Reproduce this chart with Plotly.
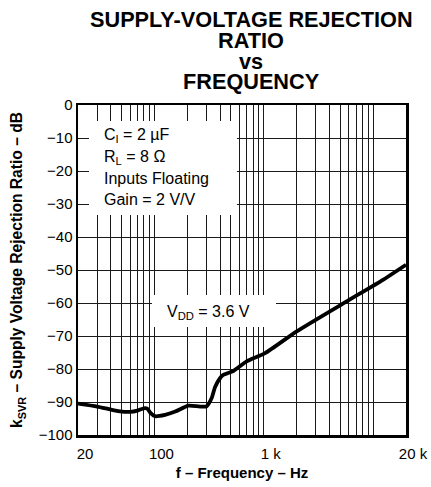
import plotly.graph_objects as go

# ---- data ----
freq_hz = [20, 30, 40, 50, 60, 70, 80, 86, 92, 101, 125, 155, 205, 261, 300,
           334, 358, 398, 426, 527, 698, 1028, 2004, 5745, 12420, 20000]
ksvr_db = [-90.5, -91.4, -92.3, -92.9, -93.0, -92.6, -91.9, -92.0, -93.3, -94.3,
           -93.9, -92.9, -91.1, -91.4, -91.3, -88.8, -85.5, -82.8, -81.8, -80.6,
           -77.7, -75.2, -68.6, -59.5, -52.9, -48.4]

x_grid_vals = [20, 30, 40, 50, 60, 70, 80, 90, 100, 200, 300, 400, 500, 600, 700,
               800, 900, 1000, 2000, 3000, 4000, 5000, 6000, 7000, 8000, 9000,
               10000, 20000]
x_tick_labels = {20: "20", 100: "100", 1000: "1 k", 20000: "20 k"}
x_tick_text = [x_tick_labels.get(v, "") for v in x_grid_vals]

title_lines = ["SUPPLY-VOLTAGE REJECTION", "RATIO", "vs", "FREQUENCY"]
cond_lines = ["C<sub>I</sub> = 2 µF", "R<sub>L</sub> = 8 Ω", "Inputs Floating",
              "Gain = 2 V/V"]
vdd_label = "V<sub>DD</sub> = 3.6 V"
y_title = "k<sub>SVR</sub> – Supply Voltage Rejection Ratio – dB\u00a0\u00a0"
x_title = "f – Frequency – Hz"

FONT = "Liberation Sans, Arial, sans-serif"

W, H = 431, 487
SL, ST, SR, SB = 78, 105, 406, 435          # plot area in window pixels
L, T, R, B = SL, ST, W - SR, H - SB
PW, PH = SR - SL, SB - ST


def px_x(p):
    return (p - SL) / PW


def px_y(p):
    return 1 - (p - ST) / PH


fig = go.Figure()
fig.add_trace(go.Scatter(x=freq_hz, y=ksvr_db, mode="lines",
                         line=dict(color="black", width=3.8, shape="spline",
                                   smoothing=0.6),
                         showlegend=False, hoverinfo="skip"))

# white boxes behind labels (mask gridlines)
fig.add_shape(type="rect", xref="paper", yref="paper",
              x0=px_x(89), x1=px_x(237), y0=px_y(215), y1=px_y(121),
              fillcolor="white", line=dict(width=0), layer="above")
fig.add_shape(type="rect", xref="paper", yref="paper",
              x0=px_x(152), x1=px_x(276), y0=px_y(327), y1=px_y(295),
              fillcolor="white", line=dict(width=0), layer="above")

annotations = []
title_y = [19.5, 40.5, 61, 81]
for txt, yy in zip(title_lines, title_y):
    annotations.append(dict(text=txt, xref="paper", yref="paper",
                            x=px_x(251), y=px_y(yy), xanchor="center",
                            yanchor="middle", showarrow=False,
                            font=dict(family=FONT, size=21.7, color="black",
                                      weight="bold")))
for txt, yy in zip(cond_lines, [135, 157, 178, 199]):
    annotations.append(dict(text=txt, xref="paper", yref="paper",
                            x=px_x(102), y=px_y(yy), xanchor="left",
                            yanchor="middle", showarrow=False,
                            font=dict(family=FONT, size=16, color="black")))
annotations.append(dict(text=vdd_label, xref="paper", yref="paper",
                        x=px_x(208), y=px_y(312), xanchor="center",
                        yanchor="middle", showarrow=False,
                        font=dict(family=FONT, size=16, color="black")))

fig.update_layout(
    width=W, height=H,
    margin=dict(l=L, r=R, t=T, b=B, autoexpand=False),
    paper_bgcolor="white", plot_bgcolor="white",
    font=dict(family=FONT, size=15, color="black"),
    annotations=annotations,
    xaxis=dict(type="log", range=[1.30103, 4.30103],
               tickmode="array", tickvals=x_grid_vals, ticktext=x_tick_text,
               showgrid=True, gridcolor="#1a1a1a", gridwidth=1,
               showline=True, linecolor="black", linewidth=2.5, mirror=True,
               ticks="", ticklabelshift=7, ticklabelstandoff=3, zeroline=False,
               ticklabeloverflow="allow",
               tickfont=dict(family=FONT, size=15),
               title=dict(text=x_title, standoff=7,
                          font=dict(family=FONT, size=15, weight="bold"))),
    yaxis=dict(range=[-100, 0], dtick=10, tick0=0,
               showgrid=True, gridcolor="#1a1a1a", gridwidth=1,
               showline=True, linecolor="black", linewidth=2.5, mirror=True,
               ticks="", zeroline=False, ticklabelstandoff=0,
               tickfont=dict(family=FONT, size=15),
               title=dict(text=y_title, standoff=12,
                          font=dict(family=FONT, size=15.6, weight="bold"))),
)

fig.write_html(
    "out.html",
    config={"displayModeBar": False, "staticPlot": True},
    post_script="document.body.style.margin='0';"
                "document.body.style.overflow='hidden';",
)
